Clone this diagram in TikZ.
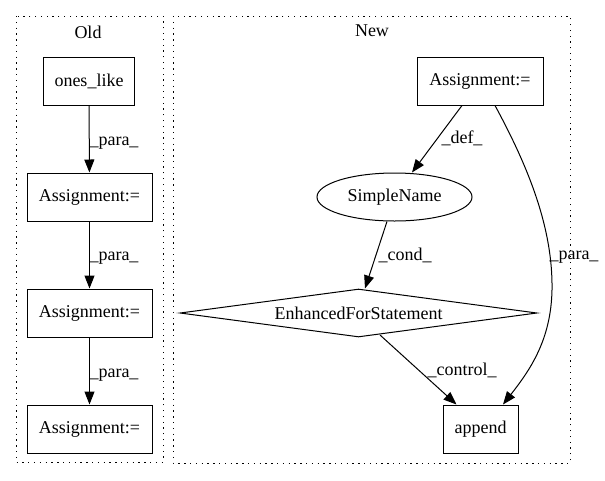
\documentclass[tikz,border=0pt]{standalone}
\usepackage{fontspec}
\setmainfont{Liberation Serif}
\usetikzlibrary{shapes.geometric,arrows.meta}
\begin{document}
\begin{tikzpicture}[x=1pt,y=-1pt,
  every node/.style={font=\fontsize{18}{21}\selectfont},
  box/.style={draw,line width=1pt,rectangle,inner sep=0pt,minimum height=48pt},
  cluster/.style={draw,line width=1pt,dash pattern=on 1.3pt off 4.5pt},
  edge/.style={line width=1pt,-{Triangle[length=13pt,width=10pt]}},
  lbl/.style={inner sep=0pt}]
\useasboundingbox (0,0) rectangle (605,480);
% clusters
\draw[cluster] (16,16) rectangle (163,462);
\draw[cluster] (173,16) rectangle (570,463);
\node (oldt) at (88,32) {Old};
\node (newt) at (372,31) {New};
% Old nodes
\node[box,minimum width=91pt] (ol) at (89,81) {ones\_like};
\node[box,minimum width=125pt] (a1) at (89.5,197) {Assignment:=};
\node[box,minimum width=125pt] (a2) at (89.5,313) {Assignment:=};
\node[box,minimum width=125pt] (a3) at (89.5,429) {Assignment:=};
% New nodes
\node[box,minimum width=126pt] (an) at (480,81) {Assignment:=};
\node[draw,line width=1pt,ellipse,inner sep=0pt,minimum width=155pt,minimum height=48pt] (sn) at (394.5,197) {SimpleName};
\node[draw,line width=1pt,diamond,aspect=7.44,inner sep=0pt,minimum width=357pt,minimum height=48pt] (ef) at (358.5,313) {EnhancedForStatement};
\node[box,minimum width=75pt] (ap) at (480.5,429) {append};
% Old edges
\draw[edge] (ol) -- (a1);
\draw[edge] (a1) -- (a2);
\draw[edge] (a2) -- (a3);
\node[lbl] (l1) at (114,143) {\_para\_};
\node[lbl] (l2) at (114,258) {\_para\_};
\node[lbl] (l3) at (114,375) {\_para\_};
% New edges
\draw[edge] ([xshift=-18pt]an.south) -- ([xshift=17.5pt]sn.north);
\node[lbl] (ld) at (462,138) {\_def\_};
\draw[edge] ([xshift=-7.5pt]sn.south) -- ([xshift=6.5pt]ef.north);
\node[lbl] (lc) at (405,255) {\_cond\_};
\draw[edge] (380,335) -- ([xshift=-24pt]ap.north);
\node[lbl] (lct) at (462,370) {\_control\_};
\coordinate (pm) at (552,290);
\draw[edge] ([xshift=15pt]an.south) .. controls (530,170) and (553,230) .. (pm) .. controls (551,340) and (530,370) .. ([xshift=22.5pt]ap.north);
\node[lbl] (lp) at (574,257) {\_para\_};
\end{tikzpicture}
\end{document}
